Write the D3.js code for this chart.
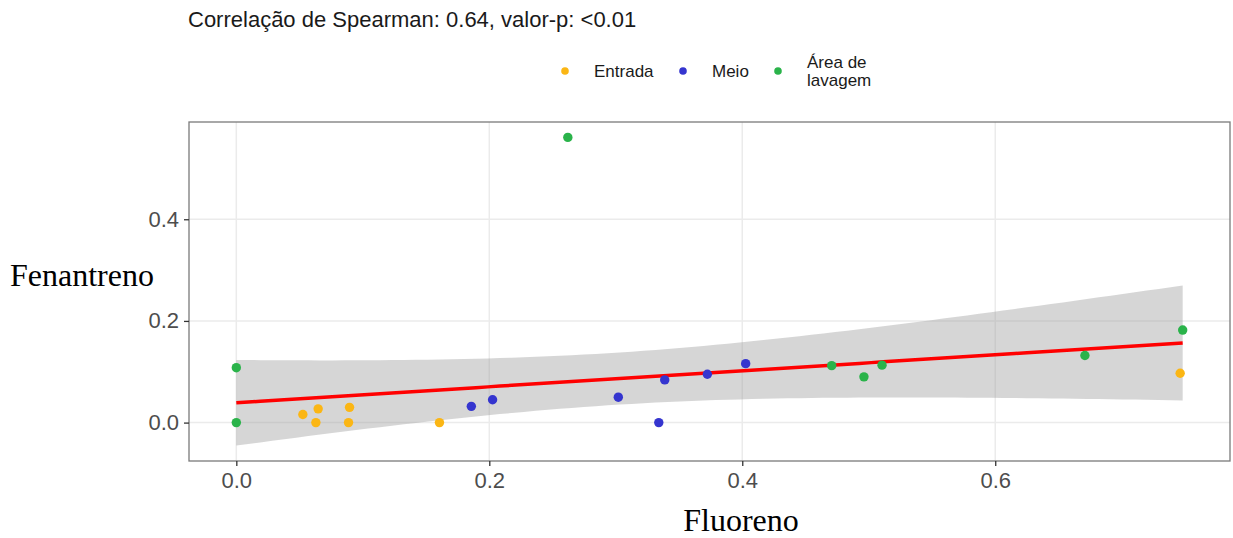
<!DOCTYPE html>
<html>
<head>
<meta charset="utf-8">
<script src="https://cdn.jsdelivr.net/npm/d3@7"></script>
<style>
    body { margin: 0; background: #fff; }
    svg { display: block; }
</style>
</head>
<body>
<svg class="chart"></svg>
<script>

// data
var groups = ["Entrada", "Meio", "Área de lavagem"];
var groupColors = ["#FBB614", "#3535CF", "#2AB34A"];

var entradaX = [0.0526, 0.0647, 0.0629, 0.0895, 0.0887, 0.1606, 0.7462];
var entradaY = [0.016, 0.027, 0.000, 0.030, 0.000, 0.000, 0.097];

var meioX = [0.1858, 0.2026, 0.3020, 0.3340, 0.3387, 0.3724, 0.4027];
var meioY = [0.032, 0.045, 0.050, 0.000, 0.084, 0.095, 0.116];

var lavagemX = [0.2621, 0.0000, 0.0000, 0.4707, 0.4962, 0.5105, 0.6709, 0.7482];
var lavagemY = [0.561, 0.108, 0.000, 0.112, 0.090, 0.113, 0.132, 0.182];

var xTicks = [0.0, 0.2, 0.4, 0.6];
var yTicks = [0.0, 0.2, 0.4];

var titleText = "Correlação de Spearman: 0.64, valor-p: <0.01";
var xTitle = "Fluoreno";
var yTitle = "Fenantreno";

// t quantile 0.975 for df = n - 2 = 20
var T975 = 2.086;

var chartWidth = 1233, chartHeight = 538;
var margin = {top: 122, right: 3, bottom: 77, left: 189};
var w = chartWidth - margin.left - margin.right;
var h = chartHeight - margin.top - margin.bottom;

var points = [];
[[entradaX, entradaY], [meioX, meioY], [lavagemX, lavagemY]].forEach(function (s, gi) {
    s[0].forEach(function (x, i) {
        points.push({x: x, y: s[1][i], g: gi});
    });
});

// linear fit + 95% confidence band (like geom_smooth(method = "lm"))
var n = points.length;
var mx = d3.mean(points, function (d) { return d.x; });
var my = d3.mean(points, function (d) { return d.y; });
var sxx = d3.sum(points, function (d) { return (d.x - mx) * (d.x - mx); });
var sxy = d3.sum(points, function (d) { return (d.x - mx) * (d.y - my); });
var slope = sxy / sxx;
var intercept = my - slope * mx;
var sse = d3.sum(points, function (d) { var r = d.y - (intercept + slope * d.x); return r * r; });
var s = Math.sqrt(sse / (n - 2));

var xExt = d3.extent(points, function (d) { return d.x; });
var fit = d3.range(80).map(function (i) {
    var x = xExt[0] + (xExt[1] - xExt[0]) * i / 79;
    var yhat = intercept + slope * x;
    var se = s * Math.sqrt(1 / n + (x - mx) * (x - mx) / sxx);
    return {x: x, y: yhat, lo: yhat - T975 * se, hi: yhat + T975 * se};
});

var yMin = Math.min(d3.min(points, function (d) { return d.y; }), d3.min(fit, function (d) { return d.lo; }));
var yMax = Math.max(d3.max(points, function (d) { return d.y; }), d3.max(fit, function (d) { return d.hi; }));
var xPad = (xExt[1] - xExt[0]) * 0.05, yPad = (yMax - yMin) * 0.05;

var x = d3.scaleLinear().domain([xExt[0] - xPad, xExt[1] + xPad]).range([0, w]);
var y = d3.scaleLinear().domain([yMin - yPad, yMax + yPad]).range([h, 0]);

var svg = d3.select(".chart")
    .attr("width", chartWidth)
    .attr("height", chartHeight);

var g = svg.append("g").attr("transform", "translate(" + margin.left + "," + margin.top + ")");

// grid
g.selectAll("line.gx").data(xTicks).enter().append("line")
    .attr("x1", function (d) { return x(d); }).attr("x2", function (d) { return x(d); })
    .attr("y1", 0).attr("y2", h)
    .attr("stroke", "#EBEBEB").attr("stroke-width", 1.5);
g.selectAll("line.gy").data(yTicks).enter().append("line")
    .attr("y1", function (d) { return y(d); }).attr("y2", function (d) { return y(d); })
    .attr("x1", 0).attr("x2", w)
    .attr("stroke", "#EBEBEB").attr("stroke-width", 1.5);

// ribbon
g.append("path").datum(fit)
    .attr("d", d3.area()
        .x(function (d) { return x(d.x); })
        .y0(function (d) { return y(d.lo); })
        .y1(function (d) { return y(d.hi); }))
    .attr("fill", "#999999").attr("fill-opacity", 0.4);

// fit line
g.append("path").datum(fit)
    .attr("d", d3.line()
        .x(function (d) { return x(d.x); })
        .y(function (d) { return y(d.y); }))
    .attr("fill", "none").attr("stroke", "#FF0000").attr("stroke-width", 3.5);

// points
g.selectAll("circle.pt").data(points).enter().append("circle")
    .attr("class", "pt")
    .attr("cx", function (d) { return x(d.x); })
    .attr("cy", function (d) { return y(d.y); })
    .attr("r", 4.7)
    .attr("fill", function (d) { return groupColors[d.g]; });

// panel border
g.append("rect").attr("width", w).attr("height", h)
    .attr("fill", "none").attr("stroke", "#7A7A7A").attr("stroke-width", 1.3);

// axes
var xAxis = g.append("g").attr("transform", "translate(0," + h + ")")
    .call(d3.axisBottom(x).tickValues(xTicks).tickFormat(d3.format(".1f")).tickSize(5).tickPadding(6));
var yAxis = g.append("g")
    .call(d3.axisLeft(y).tickValues(yTicks).tickFormat(d3.format(".1f")).tickSize(5).tickPadding(5));
[xAxis, yAxis].forEach(function (a) {
    a.select(".domain").remove();
    a.selectAll(".tick line").attr("stroke", "#333333").attr("stroke-width", 1.3);
    a.selectAll(".tick text")
        .attr("fill", "#4D4D4D")
        .style("font-family", "'Liberation Sans', Arial, sans-serif")
        .style("font-size", "22px");
});

// axis titles
svg.append("text")
    .attr("x", 741).attr("y", 531)
    .attr("text-anchor", "middle")
    .style("font-family", "'Liberation Serif', 'Times New Roman', serif")
    .style("font-size", "32px")
    .text(xTitle);
svg.append("text")
    .attr("x", 10).attr("y", 286)
    .style("font-family", "'Liberation Serif', 'Times New Roman', serif")
    .style("font-size", "32px")
    .text(yTitle);

// title
svg.append("text")
    .attr("x", 188).attr("y", 27)
    .attr("fill", "#1A1A1A")
    .style("font-family", "'Liberation Sans', Arial, sans-serif")
    .style("font-size", "22px")
    .text(titleText);

// legend
var legendX = [565, 683, 778];
var legend = svg.selectAll("g.legend").data(groups).enter().append("g")
    .attr("class", "legend")
    .attr("transform", function (d, i) { return "translate(" + legendX[i] + ",71)"; });
legend.append("circle")
    .attr("r", 3.8)
    .attr("fill", function (d, i) { return groupColors[i]; });
legend.append("text")
    .attr("x", 29)
    .style("font-family", "'Liberation Sans', Arial, sans-serif")
    .style("font-size", "17px")
    .attr("fill", "#1A1A1A")
    .each(function (d) {
        var parts = d === "Área de lavagem" ? ["Área de", "lavagem"] : [d];
        var t = d3.select(this);
        parts.forEach(function (p, i) {
            t.append("tspan")
                .attr("x", 29)
                .attr("y", parts.length === 1 ? 6 : (i === 0 ? -3 : 15))
                .text(p);
        });
    });

</script>
</body>
</html>
